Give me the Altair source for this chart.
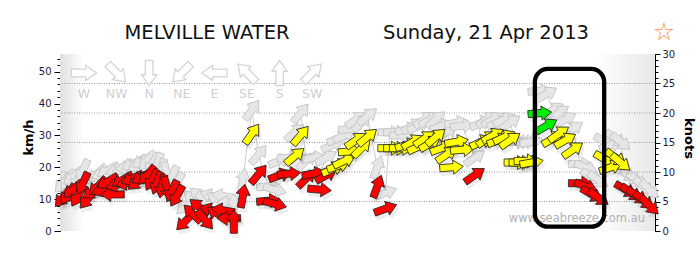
import altair as alt
import pandas as pd

# ---------------- data ----------------
times = ["06:36", "06:42", "06:48", "06:54", "07:00", "07:06", "07:12", "07:18", "07:24", "07:30",
         "07:36", "07:42", "07:48", "07:54", "08:00", "08:06", "08:12", "08:18", "08:24", "08:30",
         "08:36", "08:42", "08:48", "08:54", "09:04", "09:13", "09:21", "09:28", "09:36", "09:43",
         "09:50", "09:57", "10:03", "10:14", "10:25", "10:33", "10:45", "10:53", "10:59", "11:10",
         "11:17", "11:24", "11:31", "11:40", "11:47", "11:55", "12:03", "12:10", "12:17", "12:24",
         "12:31", "12:38", "12:45", "12:57", "13:07", "13:12", "13:19", "13:26", "13:33", "13:40",
         "13:47", "13:54", "14:01", "14:08", "14:15", "14:21", "14:27", "14:33", "14:40", "14:55",
         "15:03", "15:10", "15:17", "15:24", "15:31", "15:38", "15:45", "15:51", "15:57", "16:04",
         "16:14", "16:22", "16:30", "16:37", "16:45", "16:54", "17:03", "17:10", "17:17", "17:25",
         "17:33", "17:40", "17:46", "17:52", "17:58", "18:05", "18:12", "18:20", "18:27"]
speed_kmh = [10.5, 11.5, 13, 11, 15, 10, 12.5, 14, 13, 15.5,
             11.5, 14.5, 16, 15, 16.5, 15.5, 17, 17.5, 16, 15,
             14, 13.5, 12.5, 11, 3, 5.5, 7.5, 3.5, 6.5, 5.5,
             6.5, 4, 3, 11, 30.5, 17.8, 9.5, 8.5, 17.5, 18,
             23.5, 30, 16.5, 18, 13, 17.5, 19.5, 20.5, 22, 25,
             28.5, 26, 29.5, 14, 7, 26, 26, 26, 27, 28,
             26.5, 29, 27.5, 29.5, 26, 24, 20, 28, 25.5, 17.5,
             28, 29, 30, 28.5, 29.5, 28.5, 21.5, 21.5, 22, 21.5,
             37, 33, 29, 30.5, 28.5, 25.5, 15, 14, 11.5, 10.5,
             22.5, 20, 23, 21.5, 13, 12, 11, 9.5, 8]
gust_kmh = [15, 16, 17, 16, 19, 15, 17, 18, 18, 19,
            17, 19, 20, 20, 21, 21, 22, 22, 21, 21,
            19, 18, 17, 15, 8, 10, 11, 9, 11, 10,
            11, 9, 8, 16, 38, 24, 14, 13, 22, 23,
            31, 37, 22, 23, 18, 23, 27, 29, 30, 32,
            35, 34, 36, 20, 12, 31, 31, 30, 32, 33,
            33, 35, 35, 35, 33, 31, 27, 34, 33, 23,
            34, 35, 35, 34, 35, 34, 28, 28, 28, 28,
            44, 43, 38, 37, 35, 32, 21, 20, 17, 16,
            28, 27, 29, 28, 18, 17, 16, 14, 13]
# direction the wind comes FROM (degrees, 0 = N)
dir_from = [40, 35, 50, 30, 25, 40, 55, 45, 70, 60,
            90, 75, 60, 80, 65, 50, 60, 40, 30, 20,
            10, 345, 25, 30, 45, 135, 130, 320, 110, 120,
            100, 90, 180, 190, 215, 220, 265, 285, 250, 265,
            230, 220, 225, 260, 275, 240, 245, 250, 245, 265,
            235, 225, 230, 200, 250, 270, 270, 270, 255, 240,
            245, 235, 240, 230, 250, 235, 265, 260, 265, 235,
            245, 235, 240, 250, 245, 235, 270, 270, 270, 260,
            265, 240, 240, 235, 240, 235, 270, 290, 300, 305,
            300, 250, 305, 310, 300, 305, 305, 310, 315]

legend_names = ["W", "NW", "N", "NE", "E", "SE", "S", "SW"]
legend_from = [270, 315, 0, 45, 90, 135, 180, 225]

box_start, box_end = "16:08", "17:32"
box_low, box_high = 1.35, 50.9

kmh_labels = [0, 10, 20, 30, 40, 50]
knot_labels = [0, 5, 10, 15, 20, 25, 30]
knot_grid = [5, 10, 15, 20, 25]
KMH_PER_KNOT = 1.852


def hours(s):
    h, m = s.split(":")
    return int(h) + int(m) / 60.0


df = pd.DataFrame({"t": [hours(s) for s in times], "kmh": speed_kmh,
                   "gust": gust_kmh, "dfrom": dir_from})
df["angle"] = (df["dfrom"] + 180) % 360

leg = pd.DataFrame({"name": legend_names, "dfrom": legend_from, "i": list(range(len(legend_names)))})
leg["angle"] = (leg["dfrom"] + 180) % 360

box = pd.DataFrame({"s": [hours(box_start)], "e": [hours(box_end)], "lo": [box_low], "hi": [box_high]})

# ---------------- layout ----------------
W, H = 595, 177
ARROW = "M 0 -1 L 0.6 -0.14 L 0.3 -0.14 L 0.3 1 L -0.3 1 L -0.3 -0.14 L -0.6 -0.14 Z"
FONT = "DejaVu Sans"

xscale = alt.Scale(domain=[6.54, 18.56], nice=False, zero=False)
yscale = alt.Scale(domain=[0, 30 * KMH_PER_KNOT], nice=False, zero=True)
X = alt.X("t:Q", scale=xscale, axis=None)
one = pd.DataFrame({"a": [0]})

bg = alt.Chart(one).mark_rect(
    color=alt.LinearGradient(
        gradient="linear",
        stops=[alt.GradientStop(color="#e0e0e0", offset=0),
               alt.GradientStop(color="#ffffff", offset=0.04),
               alt.GradientStop(color="#ffffff", offset=0.9),
               alt.GradientStop(color="#e8e8e8", offset=1)],
        x1=0, x2=1, y1=0, y2=0)
).encode(x=alt.value(0), x2=alt.value(W), y=alt.value(0), y2=alt.value(H))

grid = alt.Chart(pd.DataFrame({"knots": knot_grid})).transform_calculate(
    kmh=f"datum.knots * {KMH_PER_KNOT}"
).mark_rule(color="#999999", strokeDash=[1, 1.5], strokeWidth=1).encode(
    y=alt.Y("kmh:Q", scale=yscale, axis=None))

watermark = alt.Chart(one).mark_text(
    text="www.seabreeze.com.au", align="right", baseline="middle",
    font=FONT, fontSize=11.5, color="#b0b0b0"
).encode(x=alt.value(585), y=alt.value(165))

leg_base = alt.Chart(leg).transform_calculate(px="24 + datum.i * 32.6")
leg_arrows = leg_base.mark_point(
    shape=ARROW, size=640, filled=True, fill="white", stroke="#d4d4d4",
    strokeWidth=1.3, opacity=1
).encode(x=alt.X("px:Q", scale=None, axis=None), y=alt.value(19),
         angle=alt.Angle("angle:Q", scale=None))
leg_text = leg_base.mark_text(
    font=FONT, fontSize=12.5, color="#d0d0d0", baseline="middle"
).encode(x=alt.X("px:Q", scale=None, axis=None), y=alt.value(40), text="name:N")

gust_line = alt.Chart(df).mark_line(color="#cccccc", strokeWidth=1).encode(
    x=X, y=alt.Y("gust:Q", scale=yscale, axis=None), order="t:Q")

gust_arrows = alt.Chart(df).mark_point(
    shape=ARROW, size=560, filled=True, fill="#e6e6e6", stroke="#c2c2c2",
    strokeWidth=0.8, opacity=1
).encode(x=X, y=alt.Y("gust:Q", scale=yscale, axis=None),
         angle=alt.Angle("angle:Q", scale=None))

shadows = alt.Chart(df).mark_point(
    shape=ARROW, size=640, filled=True, fill="#000000", opacity=0.07,
    xOffset=2, yOffset=4
).encode(x=X, y=alt.Y("kmh:Q", scale=yscale, axis=None),
         angle=alt.Angle("angle:Q", scale=None))

wind_arrows = alt.Chart(df).mark_point(
    shape=ARROW, size=560, filled=True, stroke="#222222", strokeWidth=0.8, opacity=1
).encode(
    x=X, y=alt.Y("kmh:Q", scale=yscale, axis=None),
    angle=alt.Angle("angle:Q", scale=None),
    fill=alt.Fill("kmh:Q", scale=alt.Scale(type="threshold", domain=[18.5, 31.5],
                                           range=["#ff0000", "#ffff00", "#00ee00"]),
                  legend=None))

hl_box = alt.Chart(box).mark_rect(
    filled=False, color="black", strokeWidth=4.3, cornerRadius=13
).encode(x=alt.X("s:Q", scale=xscale, axis=None), x2="e:Q",
         y=alt.Y("lo:Q", scale=yscale, axis=None), y2="hi:Q")

title1 = alt.Chart(one).mark_text(
    text="MELVILLE WATER", font=FONT, fontSize=19.5, color="#111111",
    align="center", baseline="middle"
).encode(x=alt.value(147), y=alt.value(-21))
title2 = alt.Chart(one).mark_text(
    text="Sunday, 21 Apr 2013", font=FONT, fontSize=19.5, color="#111111",
    align="center", baseline="middle"
).encode(x=alt.value(426), y=alt.value(-21))
star = alt.Chart(one).mark_text(
    text="☆", font=FONT, fontSize=25, color="#f39a50",
    align="center", baseline="middle"
).encode(x=alt.value(604), y=alt.value(-22))

# ---------------- axes ----------------
ax_common = dict(domainColor="black", tickColor="black", labelFont=FONT,
                 labelFontSize=10, labelColor="#1a1a40", grid=False,
                 titleFont=FONT, titleFontSize=13, titleFontWeight="bold",
                 titleColor="black")

left_major = alt.Chart(pd.DataFrame({"v": kmh_labels})).mark_point(opacity=0).encode(
    y=alt.Y("v:Q", scale=yscale, axis=alt.Axis(
        orient="left", values=kmh_labels, tickSize=6, labelPadding=3,
        title="km/h", titleX=-32, titleY=83, titleAlign="center",
        titleBaseline="middle", titleAngle=270, **ax_common)))
left_minor_vals = list(range(0, 56, 2))
left_minor = alt.Chart(pd.DataFrame({"v": left_minor_vals})).mark_point(opacity=0).encode(
    y=alt.Y("v:Q", scale=yscale, axis=alt.Axis(
        orient="left", values=left_minor_vals, tickSize=3, labels=False,
        domain=False, title=None, grid=False, tickColor="black")))

right_major_vals = [k * KMH_PER_KNOT for k in knot_labels]
right_major = alt.Chart(pd.DataFrame({"v": right_major_vals})).mark_point(opacity=0).encode(
    y=alt.Y("v:Q", scale=yscale, axis=alt.Axis(
        orient="right", values=right_major_vals, tickSize=5, labelPadding=2,
        labelExpr=f"round(datum.value / {KMH_PER_KNOT})",
        title="knots", titleX=33, titleY=84, titleAlign="center",
        titleBaseline="middle", titleAngle=90, **ax_common)))
right_minor_vals = [k * KMH_PER_KNOT for k in range(0, 31)]
right_minor = alt.Chart(pd.DataFrame({"v": right_minor_vals})).mark_point(opacity=0).encode(
    y=alt.Y("v:Q", scale=yscale, axis=alt.Axis(
        orient="right", values=right_minor_vals, tickSize=3, labels=False,
        domain=False, title=None, grid=False, tickColor="black")))

quarters = [6.75 + 0.25 * i for i in range(48)]
x_axis = alt.Chart(pd.DataFrame({"t": quarters})).mark_point(opacity=0).encode(
    x=alt.X("t:Q", scale=xscale, axis=alt.Axis(
        values=quarters, tickSize=4, labelPadding=4, labelFlush=False,
        labelOverlap=False, title=None,
        labelExpr="datum.value % 1 == 0 ? (datum.value < 12 ? datum.value + 'am' : "
                  "(datum.value == 12 ? '12pm' : (datum.value - 12) + 'pm')) : ''",
        **{k: v for k, v in ax_common.items() if not k.startswith("title")})))

chart = alt.layer(
    bg, grid, watermark, leg_arrows, leg_text, gust_line, gust_arrows, shadows, wind_arrows,
    hl_box, title1, title2, star, left_major, left_minor, right_major, right_minor, x_axis
).resolve_axis(y="independent").properties(
    width=W, height=H,
    autosize=alt.AutoSizeParams(type="none"),
    padding={"left": 60, "top": 54, "right": 45, "bottom": 30},
    background="white"
).configure_view(stroke=None)

chart.save("out.html", embed_options={"renderer": "svg", "actions": False})
